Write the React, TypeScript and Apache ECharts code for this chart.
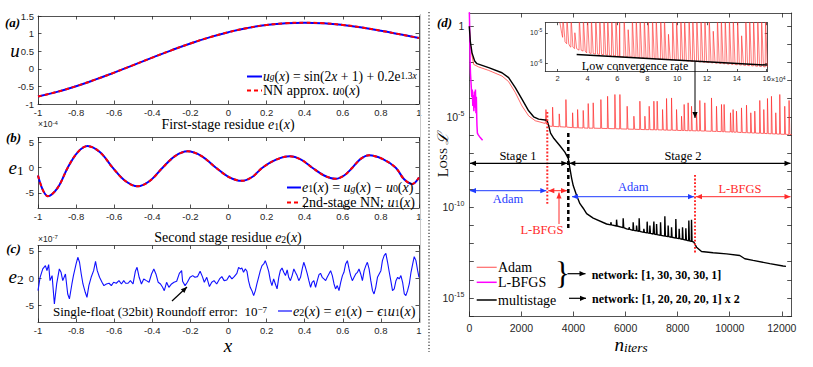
import React, { useEffect, useRef } from "react";
import * as echarts from "echarts";

const SERIF = '"Liberation Serif", "Times New Roman", serif';
const SANS = '"Liberation Sans", Arial, Helvetica, sans-serif';
const AX = "#262626";

// ---------- panel (a)
const uX = [-1, -0.9, -0.8, -0.7, -0.6, -0.5, -0.4, -0.3, -0.2, -0.1, 0, 0.1, 0.2, 0.3, 0.4, 0.5, 0.6, 0.7, 0.8, 0.9, 1];
const uY = [-0.787, -0.655, -0.494, -0.309, -0.107, 0.104, 0.318, 0.525, 0.719, 0.893, 1.041, 1.16, 1.245, 1.295, 1.31, 1.292, 1.245, 1.172, 1.081, 0.979, 0.875];
const uTicks = [-1, -0.5, 0, 0.5, 1, 1.5];
const xTicks = [-1, -0.8, -0.6, -0.4, -0.2, 0, 0.2, 0.4, 0.6, 0.8, 1];

// ---------- panel (b)  (units of 1e-4)
const e1X = [-1, -0.975, -0.949, -0.897, -0.844, -0.792, -0.74, -0.674, -0.608, -0.543, -0.477, -0.412, -0.346, -0.281, -0.215, -0.141, -0.066, 0.002, 0.07, 0.124, 0.178, 0.25, 0.322, 0.381, 0.44, 0.502, 0.563, 0.607, 0.65, 0.694, 0.738, 0.808, 0.878, 0.922, 0.965, 1.0];
const e1Y = [-1.56, -4.4, -5.65, -4.0, 0, 3.05, 4.3, 3.05, 0, -2.6, -3.7, -2.6, 0, 2.3, 3.25, 2.3, 0, -1.85, -2.6, -1.85, 0, 1.6, 2.27, 1.6, 0, -1.55, -2.2, -1.55, 0, 1.75, 2.47, 1.75, 0, -2.3, -3.25, -1.95];
const eTicks = [-5, 0, 5];

// ---------- panel (c)  (units of 1e-7)
const e2Pts = [
  [-1.0, -2.26], [-0.989, 0.18], [-0.975, 1.71], [-0.961, 2.32], [-0.953, 1.4], [-0.944, 2.5], [-0.937, -0.43], [-0.926, 0.49], [-0.914, -4.7], [-0.902, -1.04],
  [-0.888, 1.71], [-0.879, 1.1], [-0.87, -0.43], [-0.856, 0.79], [-0.844, -2.87], [-0.835, -3.78], [-0.822, -1.04], [-0.814, 0.49], [-0.8, 2.62], [-0.791, 3.84],
  [-0.782, 2.93], [-0.773, 0.79], [-0.764, -1.04], [-0.752, -2.56], [-0.743, -3.48], [-0.733, -1.34], [-0.721, 0.18], [-0.708, 1.4], [-0.698, 3.11], [-0.689, 1.4],
  [-0.677, 0.18], [-0.664, -0.73], [-0.654, -1.34], [-0.641, -1.04], [-0.627, -0.91], [-0.615, -1.34], [-0.603, -0.73], [-0.589, -0.91], [-0.575, -0.43], [-0.562, -1.04],
  [-0.55, -0.43], [-0.54, -0.91], [-0.527, -0.91], [-0.515, -0.43], [-0.501, -1.04], [-0.489, 1.28], [-0.48, 2.01], [-0.469, 0.18], [-0.457, -1.04], [-0.445, -0.12],
  [-0.431, -0.43], [-0.417, -0.73], [-0.404, 0.79], [-0.392, 1.71], [-0.381, 0.79], [-0.369, -0.73], [-0.357, -1.04], [-0.346, -1.65], [-0.337, -2.26], [-0.325, -0.73],
  [-0.313, -1.65], [-0.299, -1.04], [-0.286, -0.73], [-0.272, -0.55], [-0.258, 0.91], [-0.246, 1.4], [-0.241, -0.55], [-0.228, -1.34], [-0.216, -0.73], [-0.202, 0.18],
  [-0.188, 0.49], [-0.176, 0.18], [-0.163, 0.3], [-0.149, 1.28], [-0.137, 0.3], [-0.127, -0.73], [-0.114, 0.18], [-0.1, -1.52], [-0.088, -0.73], [-0.076, -0.43],
  [-0.062, -1.04], [-0.047, -0.12], [-0.035, 0.3], [-0.023, -0.43], [-0.009, -0.3],
  [0.005, 0.49], [0.018, -0.12], [0.03, 0.3], [0.044, 0.91], [0.053, 2.01], [0.062, 1.71], [0.07, 1.89], [0.079, 1.1], [0.088, 1.71], [0.097, 1.28],
  [0.105, -0.43], [0.114, -1.65], [0.123, -2.26], [0.132, -3.17], [0.141, -2.26], [0.149, -1.04], [0.158, 0.18], [0.167, 1.4], [0.176, 2.32], [0.185, 2.62],
  [0.193, 3.23], [0.202, 2.32], [0.211, 1.28], [0.22, -0.43], [0.228, -1.34], [0.237, -0.12], [0.246, -1.04], [0.255, -1.95], [0.264, 0.18], [0.272, 1.4],
  [0.281, 1.89], [0.29, 1.1], [0.299, 0.49], [0.308, 1.52], [0.316, 0.18], [0.325, -0.43], [0.334, 0.49], [0.343, 1.71], [0.351, 1.1], [0.36, 0.49],
  [0.369, -0.43], [0.378, 0.18], [0.387, 1.71], [0.395, 2.93], [0.404, 2.01], [0.413, 0.91], [0.422, -0.43], [0.431, -1.65], [0.439, -0.73], [0.448, -0.43],
  [0.457, -1.65], [0.466, -0.43], [0.475, 0.67], [0.483, 0.91], [0.492, 0.18], [0.501, -0.12], [0.51, -0.43], [0.518, 0.18], [0.527, 0.79], [0.536, 1.4],
  [0.545, 0.49], [0.554, -1.04], [0.562, -1.95], [0.571, -1.34], [0.58, -2.26], [0.589, -0.73], [0.598, 0.49], [0.606, 1.1], [0.615, 2.62], [0.624, 3.23],
  [0.633, 1.71], [0.641, 0.49], [0.65, -0.43], [0.659, 0.18], [0.668, 0.79], [0.677, 1.1], [0.685, 1.71], [0.694, 0.79], [0.703, -0.43], [0.712, 1.4],
  [0.721, 2.32], [0.729, 2.93], [0.738, 1.71], [0.747, -0.43], [0.756, -2.26], [0.764, -2.87], [0.773, -1.65], [0.782, 0.18], [0.791, 0.79], [0.8, 1.4],
  [0.808, 3.23], [0.817, 4.15], [0.826, 4.57], [0.835, 2.93], [0.844, 1.1], [0.852, -0.43], [0.861, -2.26], [0.87, -1.95], [0.879, -0.43], [0.888, 0.18],
  [0.896, -0.12], [0.905, 0.49], [0.914, -0.73], [0.923, -2.87], [0.931, -3.17], [0.94, -2.26], [0.949, -1.04], [0.958, 1.1], [0.967, 2.62], [0.975, 3.96],
  [0.984, 3.23], [0.993, 1.4], [1.0, 0.18],
];

// ---------- panel (d)  (log10 of loss)
const iterTicks = [0, 2000, 4000, 6000, 8000, 10000, 12000];
const lossTickExp = [-16, -15, -14, -13, -12, -11, -10, -9, -8, -7, -6, -5, -4, -3, -2, -1, 0];
const lossLabelExp = [0, -5, -10, -15];

const adamBase = [
  [0, 0], [38, -0.95], [104, -1.62], [169, -2.11], [361, -2.25], [744, -2.44], [1255, -2.75], [1510, -3.06], [1766, -3.66],
  [2022, -4.4], [2278, -4.95], [2534, -5.22], [2918, -5.37], [3097, -5.52], [3992, -5.6], [6550, -5.7], [9109, -5.79], [12179, -5.97], [12380, -5.98],
];
// [iteration, spike peak, local base]
const adamSpikes = [
  [2943, -4.6, -5.38], [3199, -4.47, -5.53], [3454, -4.84, -5.55], [3710, -4.05, -5.57], [3967, -4.78, -5.6], [4159, -4.6, -5.61], [4374, -4.65, -5.62],
  [4566, -4.27, -5.63], [4758, -4.23, -5.63], [5053, -4.05, -5.64], [5310, -3.87, -5.65], [5591, -3.77, -5.66], [5783, -3.77, -5.67], [6062, -4.42, -5.68],
  [6320, -4.97, -5.69], [6550, -4.14, -5.7], [6742, -4.97, -5.71], [6907, -4.42, -5.71], [7087, -4.14, -5.72], [7214, -4.14, -5.72], [7421, -4.6, -5.73],
  [7574, -3.99, -5.74], [7766, -3.96, -5.74], [7958, -4.6, -5.75], [8150, -4.97, -5.76], [8250, -4.32, -5.76], [8403, -4.23, -5.77], [8533, -4.42, -5.77],
  [8725, -4.78, -5.78], [8852, -4.1, -5.78], [9044, -4.23, -5.79], [9300, -3.96, -5.8], [9492, -4.42, -5.81], [9684, -4.32, -5.82], [9785, -4.32, -5.83],
  [10030, -4.78, -5.84], [10130, -4.6, -5.85], [10260, -4.69, -5.85], [10452, -4.51, -5.87], [10644, -4.36, -5.88], [10809, -4.78, -5.89], [10962, -4.69, -5.9],
  [11154, -4.1, -5.91], [11308, -4.6, -5.92], [11450, -3.99, -5.93], [11603, -3.87, -5.94], [11768, -4.78, -5.95], [11922, -3.77, -5.96], [12113, -4.42, -5.97],
  [12279, -4.1, -5.98],
];
const lbfgsPts = [
  [0, 0.9], [10, 0.2], [20, -0.8], [30, -1.9], [45, -2.6], [70, -3.2], [95, -3.9], [115, -3.5], [135, -4.4], [155, -3.8], [175, -4.7],
  [195, -3.6], [215, -4.5], [235, -3.5], [255, -4.8], [270, -3.9], [285, -5.0], [295, -5.5], [310, -5.9], [345, -6.0], [420, -6.15], [510, -6.3],
];
const multiBase = [
  [0, 0], [38, -0.82], [104, -1.47], [206, -1.92], [295, -2.07], [744, -2.29], [1255, -2.57], [1510, -2.84], [1766, -3.39], [2022, -4.03],
  [2278, -4.67], [2470, -5.0], [2662, -5.13], [2982, -5.19], [3030, -5.4], [3120, -5.9], [3250, -6.2], [3480, -6.6], [3670, -6.95], [3800, -7.3],
  [3870, -7.9], [3930, -8.4], [3990, -8.8], [4121, -9.35], [4248, -9.8], [4374, -10.05], [4505, -10.35], [4758, -10.6], [5272, -10.92], [6039, -11.19],
  [7060, -11.47], [8085, -11.74], [8622, -11.92], [8725, -12.2], [8917, -12.44], [9362, -12.51], [9876, -12.57], [10387, -12.66], [10579, -12.84],
  [10897, -12.93], [11538, -13.11], [12048, -13.24], [12160, -13.26],
];
const multiSpikes = [
  [5437, -10.82, -10.97], [5655, -10.68, -11.03], [5909, -10.6, -11.12], [6139, -11.1, -11.22], [6293, -10.82, -11.27], [6423, -11.01, -11.3],
  [6523, -10.6, -11.33], [6703, -11.19, -11.38], [6830, -10.79, -11.41], [6934, -11.01, -11.44], [7087, -10.79, -11.48], [7191, -10.92, -11.51],
  [7344, -10.82, -11.55], [7509, -10.49, -11.59], [7636, -11.01, -11.62], [7766, -11.1, -11.65], [7931, -10.65, -11.7], [8058, -11.19, -11.73],
  [8188, -11.1, -11.77], [8315, -11.15, -11.81], [8430, -10.73, -11.85], [8533, -10.68, -11.88],
];

// ---------- inset (x in 1e4 iterations)
const insetXTicks = [2, 4, 6, 8, 10, 12, 14, 16];
const insetYTicks = [-6, -5];
const insetBase = [
  [1.9, -4.3], [2.15, -4.67], [2.27, -5.02], [2.49, -5.29], [2.82, -5.45], [3.94, -5.66], [6.17, -5.78], [10.64, -5.92], [16.04, -6.12],
];
const insetSpikes = [
  [2.35, -4.5, -5.15], [2.62, -4.5, -5.36], [2.9, -4.5, -5.47], [3.15, -5.0, -5.52], [3.45, -4.5, -5.57], [3.72, -4.5, -5.6], [4.0, -4.5, -5.66],
  [4.26, -4.5, -5.68], [4.55, -4.5, -5.7], [4.82, -4.5, -5.71], [5.1, -4.5, -5.72], [5.35, -4.5, -5.74], [5.62, -4.5, -5.75], [5.9, -4.5, -5.76],
  [6.15, -4.5, -5.78], [6.45, -4.5, -5.79], [6.72, -4.9, -5.8], [7.0, -4.5, -5.8], [7.26, -4.5, -5.81], [7.52, -4.5, -5.82], [7.8, -4.5, -5.83],
  [8.06, -4.5, -5.84], [8.35, -4.5, -5.85], [8.6, -4.5, -5.86], [8.9, -4.5, -5.87], [9.15, -4.5, -5.88], [9.42, -5.05, -5.88], [9.7, -4.5, -5.89],
  [9.96, -4.5, -5.9], [10.25, -4.5, -5.91], [10.5, -4.5, -5.92], [10.8, -4.5, -5.93], [11.05, -4.5, -5.94], [11.32, -4.5, -5.95], [11.6, -4.5, -5.96],
  [11.86, -4.5, -5.97], [12.15, -4.5, -5.98], [12.42, -4.95, -5.99], [12.7, -4.5, -6.0], [12.96, -4.5, -6.01], [13.22, -4.5, -6.02], [13.5, -4.5, -6.03],
  [13.76, -4.5, -6.04], [14.05, -4.5, -6.05], [14.32, -5.1, -6.06], [14.6, -4.5, -6.07], [14.86, -4.5, -6.08], [15.12, -4.5, -6.09], [15.4, -4.5, -6.1],
  [15.66, -4.5, -6.11], [15.92, -4.5, -6.12],
];
const lowRateLine = [[3.27, -5.71], [16.04, -6.06]];

// ---------- helpers
function withSpikes(base: number[][], spikes: number[][], left: number, right: number) {
  const pts = base.map((p) => [p[0], p[1]]);
  spikes.forEach(([x, pk, b]) => {
    pts.push([x - left, b], [x, pk], [x + right, b]);
  });
  pts.sort((a, b) => a[0] - b[0]);
  return pts;
}

function axisPair(kind: "x" | "y", grid: number, min: number, max: number, ticks: number[], label: any, tickLen = 4) {
  const common: any = {
    type: "value",
    gridIndex: grid,
    min,
    max,
    splitLine: { show: false },
    axisLine: { show: true, onZero: false, lineStyle: { color: AX, width: 0.8 } },
    axisTick: { show: true, inside: true, length: tickLen, customValues: ticks, lineStyle: { color: AX, width: 0.8 } },
  };
  const main = {
    ...common,
    position: kind === "x" ? "bottom" : "left",
    axisLabel: label ? { show: true, customValues: ticks, ...label } : { show: false },
  };
  const opp = { ...common, position: kind === "x" ? "top" : "right", axisLabel: { show: false } };
  return [main, opp];
}

function mathRich(size: number, color = "#000", lhIn?: number) {
  const s = Math.round(size * 0.7 * 10) / 10;
  const lh = lhIn || size + 1;
  const sl = Math.round(s * 0.6 * 10) / 10;
  return {
    r: { fontFamily: SERIF, fontSize: size, lineHeight: lh, fill: color, color },
    i: { fontFamily: SERIF, fontStyle: "italic", fontSize: size, lineHeight: lh, fill: color, color },
    sb: { fontFamily: SERIF, fontSize: s, lineHeight: sl, verticalAlign: "bottom", fill: color, color },
    sbi: { fontFamily: SERIF, fontStyle: "italic", fontSize: s, lineHeight: sl, verticalAlign: "bottom", fill: color, color },
    sp: { fontFamily: SERIF, fontSize: s, lineHeight: sl, verticalAlign: "top", fill: color, color },
    spi: { fontFamily: SERIF, fontStyle: "italic", fontSize: s, lineHeight: sl, verticalAlign: "top", fill: color, color },
  };
}

function mtext(x: number, y: number, text: string, size: number, align = "left", color = "#000", lh?: number) {
  return {
    type: "text",
    x,
    y,
    z: 100,
    silent: true,
    style: { text, rich: mathRich(size, color, lh), align, verticalAlign: "middle", fill: color, font: `${size}px ${SERIF}` },
  };
}

function ptext(x: number, y: number, text: string, font: string, align = "center", color = "#000") {
  return { type: "text", x, y, z: 100, silent: true, style: { text, font, fill: color, align, verticalAlign: "middle" } };
}

function head(x1: number, y1: number, x2: number, y2: number, color: string, L = 6, W = 2.6) {
  const dx = x2 - x1, dy = y2 - y1;
  const len = Math.hypot(dx, dy);
  const ux = dx / len, uy = dy / len;
  const bx = x2 - ux * L, by = y2 - uy * L;
  return {
    type: "polygon",
    z: 100,
    silent: true,
    shape: { points: [[x2, y2], [bx - uy * W, by + ux * W], [bx + uy * W, by - ux * W]] },
    style: { fill: color },
  };
}

function arrow(x1: number, y1: number, x2: number, y2: number, color: string, both = false, width = 1) {
  const els: any[] = [
    { type: "line", z: 100, silent: true, shape: { x1, y1, x2, y2 }, style: { stroke: color, lineWidth: width } },
    head(x1, y1, x2, y2, color),
  ];
  if (both) els.push(head(x2, y2, x1, y1, color));
  return els;
}

function seg(x1: number, y1: number, x2: number, y2: number, color: string, width: number, dash?: number[]) {
  return { type: "line", z: 100, silent: true, shape: { x1, y1, x2, y2 }, style: { stroke: color, lineWidth: width, lineDash: dash || null } };
}

const BLUE = "#1f3cff";
const RED = "#ff2a2a";
const ADAM = "rgba(255,45,45,0.8)";

function buildOption(): any {
  const fmt1 = (v: number) => String(Math.round(v * 10) / 10);
  const leftLabelX = { fontSize: 9.5, fontFamily: SANS, color: AX, margin: 3, formatter: fmt1 };
  const leftLabelY = { fontSize: 9.5, fontFamily: SANS, color: AX, margin: 4, formatter: fmt1 };
  const dLabelX = { fontSize: 10.5, fontFamily: SANS, color: AX, margin: 6, formatter: (v: number) => String(Math.round(v)) };
  const dLabelY = {
    customValues: lossLabelExp,
    margin: 5,
    formatter: (v: number) => (Math.round(v) === 0 ? "{n|1}" : `{n|10}{s|${Math.round(v)}}`),
    rich: {
      n: { fontSize: 10.5, fontFamily: SANS, color: AX, lineHeight: 14 },
      s: { fontSize: 7, fontFamily: SANS, color: AX, lineHeight: 8, verticalAlign: "top" },
    },
  };
  const insetLabelX = { fontSize: 7.5, fontFamily: SANS, color: AX, margin: 3, formatter: (v: number) => String(Math.round(v)) };
  const insetLabelY = {
    margin: 3,
    formatter: (v: number) => `{n|10}{s|${Math.round(v)}}`,
    rich: {
      n: { fontSize: 7, fontFamily: SANS, color: AX, lineHeight: 10 },
      s: { fontSize: 5, fontFamily: SANS, color: AX, lineHeight: 6, verticalAlign: "top" },
    },
  };

  const grids = [
    { left: 38, top: 16, width: 381, height: 88 },
    { left: 38, top: 137.5, width: 381, height: 70.5 },
    { left: 38, top: 245.5, width: 381, height: 76.5 },
    { left: 469.3, top: 13, width: 322.4, height: 303 },
    { left: 545.3, top: 22.7, width: 222, height: 48.8, show: true, backgroundColor: "#fff", borderWidth: 0 },
  ].map((g) => ({ containLabel: false, outerBoundsMode: "none", ...g }));

  const xAxis = [
    ...axisPair("x", 0, -1, 1, xTicks, leftLabelX, 3.5),
    ...axisPair("x", 1, -1, 1, xTicks, leftLabelX, 3.5),
    ...axisPair("x", 2, -1, 1, xTicks, leftLabelX, 3.5),
    ...axisPair("x", 3, 0, 12380, iterTicks, dLabelX, 4.5),
    ...axisPair("x", 4, 1.17, 16.04, insetXTicks, insetLabelX, 2.5),
  ];
  const yAxis = [
    ...axisPair("y", 0, -1, 1.5, uTicks, leftLabelY, 3.5),
    ...axisPair("y", 1, -8, 6, eTicks, leftLabelY, 3.5),
    ...axisPair("y", 2, -8, 6, eTicks, leftLabelY, 3.5),
    ...axisPair("y", 3, -16, 0.73, lossTickExp, dLabelY, 4.5),
    ...axisPair("y", 4, -6.27, -4.67, insetYTicks, insetLabelY, 2.5),
  ];

  const line = (xi: number, data: any[], color: string, width: number, extra: any = {}) => ({
    type: "line",
    xAxisIndex: xi,
    yAxisIndex: xi,
    data,
    showSymbol: false,
    symbol: "none",
    silent: true,
    ...extra,
    lineStyle: { color, width, ...(extra.lineStyle || {}) },
  });

  const uData = uX.map((x, i) => [x, uY[i]]);
  const e1Data = e1X.map((x, i) => [x, e1Y[i]]);

  const series = [
    line(0, uData, "#0000ff", 2, { smooth: 0.5 }),
    line(0, uData, "#ff0000", 2, { smooth: 0.5, lineStyle: { type: [4, 3] } }),
    line(2, e1Data, "#0000ff", 2, { smooth: 0.35 }),
    line(2, e1Data, "#ff0000", 2, { smooth: 0.35, lineStyle: { type: [4, 3] } }),
    line(4, e2Pts, "#1010ff", 1.1),
    line(6, withSpikes(adamBase, adamSpikes, 10, 30), ADAM, 0.9),
    line(6, lbfgsPts, "#ff00ff", 1.5),
    line(6, withSpikes(multiBase, multiSpikes, 8, 20), "#000", 1.4),
    line(8, withSpikes(insetBase, insetSpikes, 0.02, 0.12), ADAM, 0.8),
    line(8, lowRateLine, "#000", 1.5),
  ];

  const els: any[] = [];
  // left panel texts
  els.push(ptext(12.5, 22.5, "(a)", `italic bold 13px ${SERIF}`));
  els.push(ptext(13.5, 137.5, "(b)", `italic bold 13px ${SERIF}`));
  els.push(ptext(13.5, 248, "(c)", `italic bold 13px ${SERIF}`));
  els.push(ptext(15, 50, "u", `italic 19px ${SERIF}`));
  els.push(mtext(16, 167, "{i|e}{sb|1}", 19, "center"));
  els.push(mtext(16, 276, "{i|e}{sb|2}", 19, "center"));
  els.push(ptext(228, 345, "x", `italic 19px ${SERIF}`));
  els.push(mtext(228, 124, "{r|First-stage residue }{i|e}{sb|1}{r|(}{i|x}{r|)}", 14, "center"));
  els.push(mtext(228, 237, "{r|Second stage residue }{i|e}{sb|2}{r|(}{i|x}{r|)}", 14, "center"));
  const expRich = {
    n: { fontFamily: SANS, fontSize: 8.5, lineHeight: 9, fill: AX },
    s: { fontFamily: SANS, fontSize: 6, lineHeight: 5, verticalAlign: "top", fill: AX },
  };
  els.push({ type: "text", x: 38, y: 124, z: 100, silent: true, style: { text: "{n|×10}{s|-4}", rich: expRich, align: "left", verticalAlign: "middle" } });
  els.push({ type: "text", x: 38, y: 238.5, z: 100, silent: true, style: { text: "{n|×10}{s|-7}", rich: expRich, align: "left", verticalAlign: "middle" } });

  // legend (a)
  els.push(seg(247, 76.5, 262, 76.5, "#0000ff", 2));
  els.push(mtext(263, 76.5, "{i|u}{sbi|g}{r|(}{i|x}{r|) = sin(2}{i|x}{r| + 1) + 0.2e}{sp|1.3}{spi|x}", 13.6, "left", "#000", 11.5));
  els.push(seg(247, 90.5, 262, 90.5, "#ff0000", 2, [4, 3]));
  els.push(mtext(263, 90.5, "{r|NN approx. }{i|u}{sb|0}{r|(}{i|x}{r|)}", 14, "left", "#000", 11.5));
  // legend (b)
  els.push(seg(287, 187.5, 301, 187.5, "#0000ff", 2));
  els.push(mtext(302, 187.5, "{i|e}{sb|1}{r|(}{i|x}{r|) = }{i|u}{sbi|g}{r|(}{i|x}{r|) − }{i|u}{sb|0}{r|(}{i|x}{r|)}", 14, "left", "#000", 11.5));
  els.push(seg(287, 202.5, 301, 202.5, "#ff0000", 2, [4, 3]));
  els.push(mtext(302, 202.5, "{r|2nd-stage NN: }{i|u}{sb|1}{r|(}{i|x}{r|)}", 14, "left", "#000", 11.5));
  // legend (c) + annotation
  els.push(seg(278, 311, 292, 311, "#1010ff", 1.2));
  els.push(mtext(293, 311, "{i|e}{sb|2}{r|(}{i|x}{r|) = }{i|e}{sb|1}{r|(}{i|x}{r|) − }{i|ϵ}{sb|1}{i|u}{sb|1}{r|(}{i|x}{r|)}", 14.2, "left", "#000", 12));
  els.push(mtext(53, 311, "{r|Single-float (32bit) Roundoff error:  10}{sp|−7}", 13, "left", "#000", 12));
  els.push(...arrow(172, 301, 187, 287, "#000", false, 1.2));

  // separators
  els.push(seg(420.5, 14, 420.5, 323, "#c8c8c8", 1));
  els.push(seg(429, 12, 429, 352, "#000", 1, [1.2, 2]));

  // panel (d) texts
  els.push(ptext(444.5, 22.5, "(d)", `italic bold 13px ${SERIF}`));
  els.push({
    type: "text", x: 443, y: 155, z: 100, rotation: Math.PI / 2, silent: true,
    style: {
      text: "{L|L}{s|OSS} {c|ℒ}", align: "center", verticalAlign: "middle",
      rich: {
        L: { fontFamily: SERIF, fontSize: 15, lineHeight: 18, fill: "#000" },
        s: { fontFamily: SERIF, fontSize: 11, lineHeight: 18, fill: "#000" },
        c: { fontFamily: SERIF, fontStyle: "italic", fontSize: 15, lineHeight: 18, fill: "#000" },
      },
    },
  });
  els.push(mtext(631, 344, "{i|n}{sbi|iters}", 19, "center"));

  // vertical stage lines
  els.push(seg(547.3, 112, 547.3, 205, RED, 2, [1.8, 1.8]));
  els.push(seg(568.3, 133, 568.3, 231, "#000", 2.5, [4, 3]));
  els.push(seg(695, 175, 695, 254, RED, 2, [1.8, 1.8]));

  // stage arrows
  els.push(...arrow(470, 163.3, 567.3, 163.3, "#000", true, 1.2));
  els.push(...arrow(569.3, 163.3, 790.5, 163.3, "#000", true, 1.2));
  els.push(ptext(518, 156, "Stage 1", `12.5px ${SERIF}`));
  els.push(ptext(683, 156, "Stage 2", `12.5px ${SERIF}`));
  els.push(...arrow(470, 190.7, 546.3, 190.7, BLUE, true, 1));
  els.push(...arrow(548.3, 190.7, 567, 190.7, RED, true, 1));
  els.push(...arrow(559, 224, 559, 192.5, RED, false, 1));
  els.push(ptext(508, 199.3, "Adam", `12.5px ${SERIF}`, "center", BLUE));
  els.push(ptext(542, 230, "L-BFGS", `12.5px ${SERIF}`, "center", RED));
  els.push(...arrow(572, 196.7, 694, 196.7, BLUE, true, 1));
  els.push(...arrow(696, 196.7, 790.5, 196.7, RED, true, 1));
  els.push(ptext(633.3, 186.7, "Adam", `12.5px ${SERIF}`, "center", BLUE));
  els.push(ptext(740, 189.3, "L-BFGS", `12.5px ${SERIF}`, "center", RED));

  // inset annotation
  els.push(ptext(635, 66, "Low convergence rate", `12px ${SERIF}`));
  els.push(...arrow(695, 62, 695, 118, "#000", false, 1));
  els.push({ type: "text", x: 771, y: 79.5, z: 100, silent: true, style: { text: "{n|×10}{s|4}", align: "left", verticalAlign: "middle", rich: { n: { fontFamily: SANS, fontSize: 7, lineHeight: 8, fill: AX }, s: { fontFamily: SANS, fontSize: 5, lineHeight: 4, verticalAlign: "top", fill: AX } } } });

  // legend (d)
  els.push(seg(476.7, 267.3, 496.7, 267.3, "#ff6a6a", 1.2));
  els.push(seg(476.7, 282.3, 496.7, 282.3, "#ff00ff", 1.5));
  els.push(seg(476.7, 300, 496.7, 300, "#000", 1.5));
  els.push(ptext(498, 267.3, "Adam", `14px ${SERIF}`, "left"));
  els.push(ptext(498, 282.3, "L-BFGS", `14px ${SERIF}`, "left"));
  els.push(ptext(498, 300, "multistage", `14px ${SERIF}`, "left"));
  els.push(ptext(562.5, 273.5, "}", `31px ${SERIF}`));
  els.push(...arrow(567.5, 273.7, 585.5, 273.7, "#000", false, 1.2));
  els.push(ptext(591.7, 274.5, "network: [1, 30, 30, 30, 1]", `bold 12px ${SERIF}`, "left"));
  els.push(...arrow(569, 298.3, 586, 298.3, "#000", false, 1.2));
  els.push(ptext(592, 299, "network: [1, 20, 20, 20, 1] x 2", `bold 12px ${SERIF}`, "left"));

  return {
    animation: false,
    backgroundColor: "#fff",
    grid: grids,
    xAxis,
    yAxis,
    series,
    graphic: { elements: els },
  };
}

export default function App() {
  const ref = useRef<HTMLDivElement>(null);
  useEffect(() => {
    document.body.style.margin = "0";
    const chart = echarts.init(ref.current!, null, { renderer: "svg" });
    chart.setOption(buildOption());
    return () => chart.dispose();
  }, []);
  return <div ref={ref} style={{ position: "absolute", left: 0, top: 0, width: 813, height: 367, background: "#fff" }} />;
}
